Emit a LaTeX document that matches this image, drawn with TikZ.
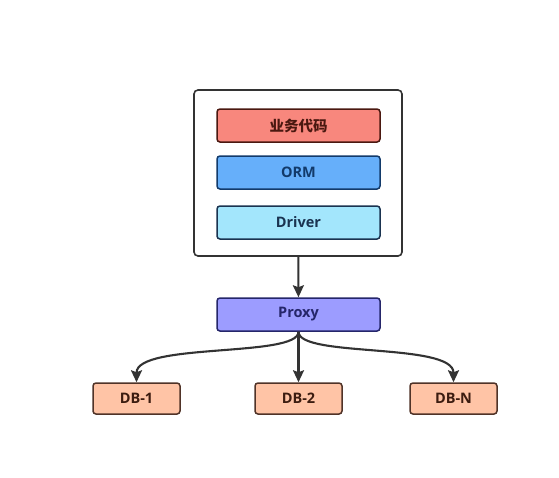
\documentclass[tikz,border=0pt]{standalone}
\usepackage{fontspec}
\setmainfont{Open Sans}
\newfontfamily\cjk{Noto Sans CJK SC}
\usepackage{xcolor}
\definecolor{DarkGrey}{HTML}{333333}
\definecolor{BizRed}{HTML}{F8877D}
\definecolor{BizText}{HTML}{4A1810}
\definecolor{OrmBlue}{HTML}{66AFFA}
\definecolor{OrmText}{HTML}{123A6A}
\definecolor{DrvBlue}{HTML}{A3E6FC}
\definecolor{DrvText}{HTML}{1A3350}
\definecolor{ProxyPurple}{HTML}{9C9CFF}
\definecolor{ProxyText}{HTML}{25266A}
\definecolor{DbPeach}{HTML}{FFC4A6}
\definecolor{DbText}{HTML}{3C1C10}
\usepackage{tikz}
\usetikzlibrary{arrows.meta,positioning}
\newcommand\BoxW{163pt}
\newcommand\BoxH{33pt}
\newcommand\DbW{87pt}
\newcommand\DbH{31pt}
\newcommand\MidX{298.5}
\tikzstyle{client}=[rectangle,rounded corners=4pt,line width=1.6pt,draw=DarkGrey,fill=white,
                     minimum height=166pt,minimum width=208pt]
\tikzstyle{layer}=[rectangle,rounded corners=3pt,line width=1.5pt,text centered,
                     font=\fontsize{14.5}{16}\selectfont\bfseries,
                     minimum height=\BoxH,minimum width=\BoxW]
\tikzstyle{dbbox}=[rectangle,rounded corners=3pt,line width=1.5pt,text centered,
                     font=\fontsize{14.5}{16}\selectfont\bfseries,draw=DbText!90,fill=DbPeach,text=DbText,
                     minimum height=\DbH,minimum width=\DbW]
\tikzstyle{link}=[line width=2.1pt,draw=DarkGrey,-{Stealth[length=12pt,width=11pt,inset=2pt]}]

\begin{document}
\begin{tikzpicture}[x=1pt,y=-1pt]
      \useasboundingbox (0,0) rectangle (559,477);
      \node[client] (client) at (298,173) {};
      \node[layer] (biz) at (\MidX,125.5) [draw=BizText,fill=BizRed,text=BizText] {\cjk\bfseries 业务代码};
      \node[layer] (orm) at (\MidX,172.5) [draw=OrmText,fill=OrmBlue,text=OrmText] {ORM};
      \node[layer] (driver) at (\MidX,222.5) [draw=DrvText,fill=DrvBlue,text=DrvText] {Driver};
      \node[layer] (proxy) at (\MidX,314.5) [draw=ProxyText,fill=ProxyPurple,text=ProxyText] {Proxy};
      \node[dbbox] (db1) at (136.5,398.5) {DB-1};
      \node[dbbox] (db2) at (298.5,398.5) {DB-2};
      \node[dbbox] (dbn) at (453.5,398.5) {DB-N};
      \draw[link] (client) -- (proxy);
      \draw[link] (proxy.south) .. controls +(0,26) and +(0,-40) .. (db1.north);
      \draw[link] (proxy) -- (db2);
      \draw[link] (proxy.south) .. controls +(0,26) and +(0,-40) .. (dbn.north);
   \end{tikzpicture}
\end{document}
